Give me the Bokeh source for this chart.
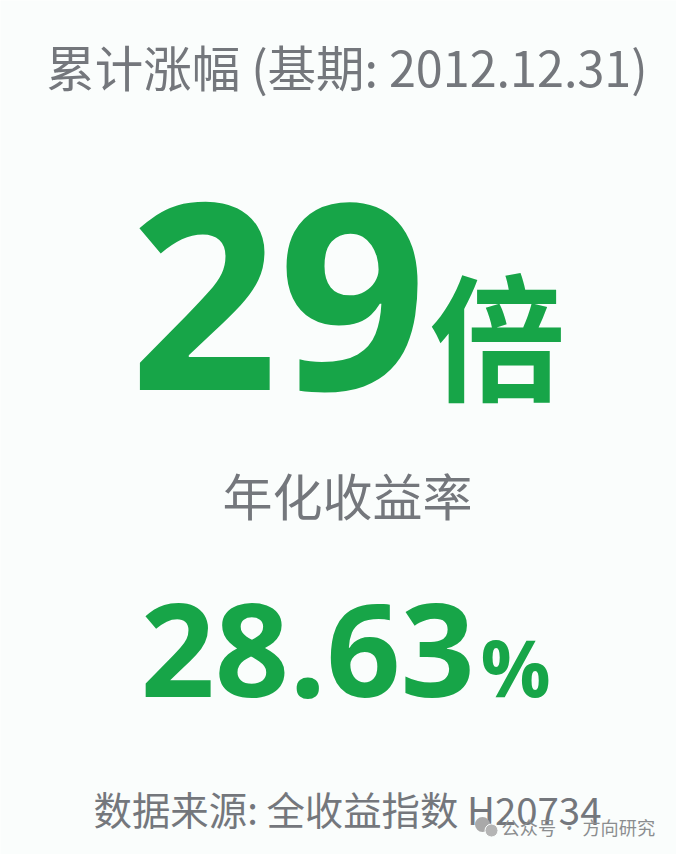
from bokeh.plotting import figure
from bokeh.models import Range1d
from bokeh.core.properties import value
from bokeh.embed import file_html
from bokeh.resources import INLINE

W, H = 676, 854
BG = "#fafdfc"
p = figure(width=W, height=H, output_backend="svg", toolbar_location=None,
           x_range=Range1d(0, W), y_range=Range1d(H, 0), min_border=0)
p.xaxis.visible = False
p.yaxis.visible = False
p.grid.visible = False
p.outline_line_color = None
p.background_fill_color = BG
p.border_fill_color = BG

titles = ["累计涨幅 (基期: 2012.12.31)", "年化收益率", "数据来源: 全收益指数 H20734"]
title_x = [346.5, 347, 347]
title_y = [65, 493, 807]
title_size = ["48.5px", "50px", "38.4px"]
GREY = "#74777c"
GREEN = "#17a548"
CJK = value("Noto Sans CJK SC")
for t, x, y, s in zip(titles, title_x, title_y, title_size):
    p.text([x], [y], text=[t], text_font=CJK, text_font_size=s, text_color=GREY,
           text_align="center", text_baseline="middle")

p.text([129], [296], text=["29"], text_font=value("Open Sans"), text_font_size="260px",
       text_font_style="bold", text_color=GREEN, text_align="left", text_baseline="alphabetic")
p.text([429], [330.5], text=["倍"], text_font=CJK, text_font_size="136px",
       text_font_style="bold", text_color=GREEN, text_align="left", text_baseline="alphabetic")
p.text([140], [650], text=["28.63"], text_font=value("Open Sans"), text_font_size="130px",
       text_font_style="bold", text_color=GREEN, text_align="left", text_baseline="alphabetic")
p.text([480], [666], text=["%"], text_font=value("Open Sans"), text_font_size="78px",
       text_font_style="bold", text_color=GREEN, text_align="left", text_baseline="alphabetic")

# WeChat watermark
p.scatter([482], [824], size=15, marker="circle", fill_color="#a9a9a9", line_color=None)
p.scatter([491], [830], size=13, marker="circle", fill_color="#b5b5b5", line_color=BG, line_width=1)
p.text([501], [826], text=["公众号 · 方向研究"], text_font=CJK, text_font_size="18.2px",
       text_color="#8b8d8f", text_align="left", text_baseline="middle")

open("out.html", "w").write(file_html(p, INLINE))
